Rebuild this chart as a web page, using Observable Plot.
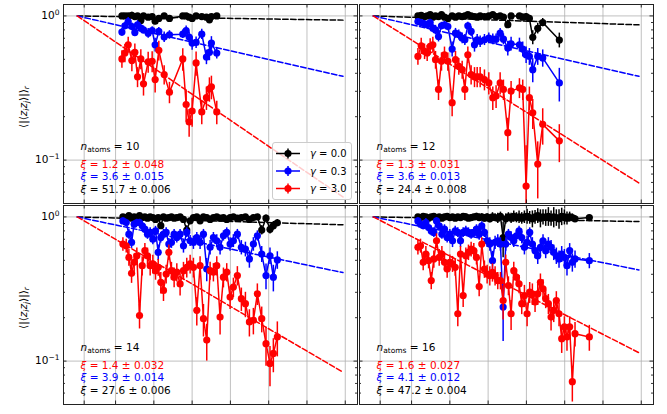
<!DOCTYPE html>
<html><head><meta charset="utf-8">
<script src="https://cdn.jsdelivr.net/npm/d3@7"></script>
<script src="https://cdn.jsdelivr.net/npm/@observablehq/plot@0.6"></script>
<style>
body{margin:0;background:#fff;}
#wrap{position:relative;width:667px;height:414px;overflow:hidden;font-family:"DejaVu Sans",sans-serif;background:#fff;}
#wrap svg{position:absolute;left:0;top:0;background:transparent !important;overflow:visible;}
#legend{position:absolute;left:272px;top:142px;width:80px;height:58px;box-sizing:border-box;border:1px solid #cccccc;border-radius:3px;background:rgba(255,255,255,0.8);}
#legend svg{position:absolute;left:0;top:0;}
</style></head><body><div id="wrap"></div>
<script>
// ---------- data ----------
const gammaLabels = ["0.0", "0.3", "3.0"];
const xTicks = [0.09, 0.5, 1, 1.5, 2, 2.5, 3, 3.5];
const yMajor = [0.1, 1];
const yMinor = [0.05, 0.06, 0.07, 0.08, 0.09, 0.2, 0.3, 0.4, 0.5, 0.6, 0.7, 0.8, 0.9];
const fitR = [0, 3.47];

// n_atoms = 10
const r10 = [0.583,0.622,0.665,0.713,0.752,0.787,0.830,0.865,0.926,0.978,1.017,1.065,1.135,1.204,1.378,1.422,1.461,1.500,1.552,1.626,1.687,1.726,1.752,1.822];
const k10 = [1.0,1.0,1.0,1.01,0.99,1.0,0.93,1.0,0.98,0.99,0.92,0.96,1.0,0.96,1.0,1.0,0.98,0.96,1.0,0.99,0.98,0.94,0.99,1.0];
const ek10 = [0.02,0.02,0.03,0.05,0.03,0.02,0.04,0.02,0.03,0.02,0.05,0.03,0.02,0.03,0.02,0.02,0.03,0.03,0.02,0.02,0.03,0.03,0.02,0.02];
const b10 = [0.772,0.853,0.914,0.844,0.768,0.867,0.822,0.80,0.759,0.792,0.631,0.78,0.713,0.74,0.747,0.792,0.713,0.648,0.655,0.747,0.519,0.559,0.648,0.553];
const eb10 = [0.05,0.05,0.06,0.05,0.05,0.06,0.05,0.05,0.06,0.05,0.07,0.05,0.06,0.05,0.05,0.06,0.06,0.07,0.06,0.06,0.06,0.07,0.07,0.05];
const red10 = [0.503,0.553,0.631,0.49,0.559,0.378,0.503,0.338,0.48,0.484,0.362,0.577,0.392,0.296,0.503,0.243,0.184,0.219,0.472,0.216,0.271,0.312,0.322,0.216];
const er10 = [0.07,0.08,0.08,0.08,0.08,0.06,0.08,0.06,0.08,0.08,0.07,0.09,0.06,0.05,0.09,0.06,0.04,0.05,0.09,0.04,0.05,0.06,0.06,0.04];
const xi10 = [51.7, 3.6, 1.2];
const xiErr10 = ["0.006", "0.015", "0.048"];
const fit10 = [0.935, 0.381, 0.0555];

// n_atoms = 12
const r12 = [0.583,0.626,0.670,0.704,0.743,0.778,0.813,0.852,0.891,0.930,0.974,1.030,1.074,1.117,1.161,1.196,1.235,1.278,1.322,1.357,1.396,1.452,1.509,1.561,1.604,1.657,1.700,1.757,1.80,1.909,1.952,1.996,2.039,2.083,2.148,2.213,2.430];
const k12 = [1.0,1.01,0.99,1.0,1.02,0.98,1.0,0.99,1.02,0.98,0.96,1.0,0.98,1.0,0.99,1.0,1.02,1.0,0.99,0.98,1.0,0.99,1.0,1.02,0.99,1.0,0.98,0.87,1.0,1.0,0.98,0.99,0.96,0.71,0.82,0.90,0.68];
const ek12 = [0.03,0.03,0.03,0.04,0.03,0.03,0.03,0.04,0.03,0.03,0.03,0.04,0.03,0.03,0.03,0.04,0.03,0.03,0.03,0.03,0.04,0.03,0.03,0.03,0.04,0.03,0.03,0.05,0.04,0.04,0.05,0.05,0.05,0.08,0.07,0.06,0.08];
const b12 = [0.914,0.90,0.881,0.867,0.90,0.822,0.80,0.72,0.853,0.867,0.844,0.589,0.759,0.74,0.701,0.683,0.853,0.78,0.631,0.683,0.665,0.683,0.701,0.69,0.69,0.759,0.69,0.598,0.641,0.631,0.589,0.538,0.524,0.424,0.524,0.511,0.343];
const eb12 = [0.04,0.04,0.05,0.05,0.05,0.05,0.06,0.06,0.05,0.05,0.05,0.07,0.06,0.06,0.06,0.06,0.05,0.06,0.07,0.06,0.06,0.06,0.06,0.06,0.06,0.06,0.06,0.07,0.07,0.07,0.07,0.07,0.07,0.08,0.07,0.07,0.09];
const red12 = [0.524,0.621,0.568,0.553,0.615,0.631,0.497,0.309,0.484,0.538,0.484,0.25,0.497,0.447,0.424,0.309,0.538,0.392,0.378,0.378,0.378,0.362,0.343,0.271,0.278,0.343,0.309,0.155,0.301,0.317,0.309,0.066,0.271,0.213,0.0938,0.177,0.136];
const er12 = [0.07,0.08,0.07,0.07,0.08,0.08,0.07,0.05,0.07,0.07,0.07,0.05,0.07,0.06,0.06,0.05,0.07,0.06,0.06,0.06,0.06,0.06,0.06,0.05,0.05,0.06,0.05,0.04,0.05,0.05,0.05,0.06,0.05,0.05,0.04,0.05,0.04];
const xi12 = [24.4, 3.6, 1.3];
const xiErr12 = ["0.008", "0.013", "0.031"];
const fit12 = [0.867, 0.381, 0.0693];

// n_atoms = 14
const r14 = [0.596,0.639,0.674,0.709,0.743,0.778,0.813,0.848,0.883,0.917,0.952,0.987,1.022,1.057,1.091,1.126,1.161,1.196,1.230,1.265,1.30,1.343,1.387,1.430,1.474,1.517,1.561,1.604,1.648,1.691,1.735,1.778,1.822,1.865,1.909,1.952,1.996,2.039,2.091,2.143,2.196,2.248,2.30,2.352,2.409,2.465,2.517,2.561,2.613];
const k14 = [1.0,0.99,1.02,0.98,1.0,0.99,1.02,0.99,1.0,0.98,1.0,0.99,0.96,0.99,0.87,1.0,0.98,0.99,1.0,0.98,0.99,1.0,0.96,0.81,0.94,0.99,1.0,0.94,1.0,0.99,0.96,0.99,1.0,0.98,0.99,0.96,0.99,1.0,0.98,0.99,1.0,0.96,0.99,1.0,0.81,0.98,0.82,0.87,0.91];
const ek14 = [0.02,0.03,0.03,0.04,0.03,0.03,0.04,0.03,0.03,0.04,0.03,0.03,0.04,0.03,0.05,0.03,0.04,0.03,0.03,0.04,0.03,0.03,0.04,0.06,0.04,0.03,0.04,0.04,0.03,0.04,0.04,0.03,0.04,0.04,0.03,0.04,0.04,0.03,0.04,0.04,0.03,0.04,0.04,0.04,0.06,0.05,0.06,0.06,0.05];
const b14 = [0.938,0.914,0.759,0.665,0.89,0.914,0.914,0.867,0.822,0.759,0.78,0.701,0.80,0.568,0.72,0.759,0.78,0.648,0.665,0.759,0.72,0.759,0.631,0.78,0.683,0.665,0.72,0.665,0.759,0.435,0.615,0.72,0.683,0.615,0.74,0.78,0.648,0.683,0.759,0.615,0.598,0.511,0.648,0.74,0.553,0.392,0.538,0.382,0.503];
const eb14 = [0.05,0.05,0.06,0.06,0.05,0.05,0.05,0.06,0.06,0.06,0.06,0.06,0.06,0.07,0.06,0.06,0.06,0.06,0.06,0.06,0.06,0.06,0.07,0.06,0.06,0.07,0.06,0.07,0.06,0.08,0.07,0.06,0.07,0.07,0.06,0.06,0.07,0.07,0.06,0.07,0.07,0.07,0.07,0.06,0.07,0.08,0.07,0.08,0.07];
const red14 = [0.648,0.631,0.524,0.406,0.484,0.538,0.207,0.459,0.583,0.538,0.459,0.472,0.424,0.447,0.352,0.309,0.402,0.568,0.424,0.382,0.414,0.343,0.424,0.447,0.472,0.447,0.225,0.459,0.197,0.14,0.424,0.414,0.459,0.202,0.382,0.414,0.278,0.326,0.392,0.271,0.25,0.187,0.192,0.293,0.197,0.132,0.0964,0.113,0.147];
const er14 = [0.07,0.07,0.07,0.06,0.07,0.07,0.04,0.07,0.07,0.07,0.07,0.07,0.06,0.06,0.06,0.05,0.06,0.07,0.06,0.06,0.06,0.06,0.06,0.07,0.07,0.07,0.05,0.07,0.05,0.04,0.06,0.06,0.07,0.05,0.06,0.06,0.05,0.05,0.06,0.05,0.05,0.04,0.04,0.05,0.04,0.04,0.03,0.03,0.04];
const xi14 = [27.6, 3.9, 1.4];
const xiErr14 = ["0.006", "0.014", "0.032"];
const fit14 = [0.882, 0.411, 0.0838];

// n_atoms = 16
const r16 = [0.583,0.617,0.652,0.687,0.722,0.757,0.791,0.826,0.861,0.896,0.930,0.965,1.0,1.035,1.070,1.104,1.139,1.174,1.209,1.243,1.278,1.313,1.348,1.383,1.417,1.452,1.487,1.522,1.557,1.591,1.626,1.661,1.696,1.730,1.765,1.80,1.835,1.870,1.904,1.939,1.974,2.009,2.043,2.078,2.113,2.148,2.183,2.217,2.252,2.287,2.322,2.357,2.391,2.426,2.461,2.496,2.530,2.565,2.60,2.635,2.822];
const k16 = [1.0,0.99,1.01,1.0,0.98,1.0,1.01,0.99,1.0,0.98,1.0,1.01,0.99,1.0,0.98,1.0,0.99,1.01,1.0,0.98,0.99,1.0,1.01,0.99,1.0,0.98,1.0,0.97,1.0,0.99,0.98,1.01,0.72,0.97,1.0,0.98,1.01,0.99,1.0,0.98,1.0,1.01,0.99,0.97,1.0,1.02,0.98,1.0,0.99,1.01,0.98,1.0,0.99,0.97,1.01,1.0,0.98,1.0,0.99,0.97,0.99];
const ek16 = [0.03,0.03,0.03,0.04,0.03,0.03,0.04,0.03,0.04,0.03,0.04,0.03,0.04,0.04,0.03,0.04,0.04,0.04,0.05,0.04,0.05,0.04,0.05,0.06,0.05,0.06,0.05,0.06,0.07,0.06,0.08,0.07,0.2,0.08,0.07,0.08,0.09,0.08,0.10,0.09,0.10,0.12,0.10,0.13,0.11,0.12,0.14,0.12,0.13,0.15,0.12,0.16,0.13,0.15,0.14,0.12,0.10,0.08,0.06,0.05,0.04];
const b16 = [0.938,0.89,0.867,0.914,0.844,0.80,0.78,0.938,0.867,0.759,0.822,0.72,0.759,0.683,0.80,0.78,0.683,0.78,0.80,0.78,0.759,0.78,0.822,0.759,0.867,0.78,0.683,0.648,0.497,0.665,0.683,0.648,0.237,0.648,0.759,0.72,0.683,0.74,0.80,0.72,0.615,0.665,0.78,0.648,0.583,0.538,0.615,0.683,0.583,0.648,0.615,0.568,0.538,0.511,0.553,0.524,0.459,0.583,0.484,0.511,0.497];
const eb16 = [0.05,0.05,0.05,0.06,0.05,0.06,0.06,0.05,0.06,0.06,0.06,0.06,0.06,0.07,0.06,0.06,0.07,0.06,0.06,0.06,0.06,0.06,0.06,0.07,0.06,0.06,0.07,0.07,0.08,0.07,0.07,0.07,0.1,0.07,0.06,0.07,0.07,0.06,0.06,0.07,0.07,0.07,0.06,0.07,0.07,0.07,0.07,0.07,0.07,0.07,0.07,0.07,0.07,0.07,0.07,0.07,0.07,0.07,0.07,0.07,0.06];
const red16 = [0.615,0.631,0.484,0.553,0.497,0.362,0.511,0.683,0.524,0.553,0.484,0.435,0.484,0.472,0.447,0.213,0.553,0.285,0.538,0.568,0.598,0.583,0.524,0.329,0.648,0.435,0.402,0.392,0.413,0.392,0.362,0.362,0.263,0.484,0.334,0.213,0.424,0.382,0.343,0.25,0.285,0.213,0.301,0.293,0.257,0.293,0.352,0.317,0.271,0.25,0.202,0.225,0.263,0.213,0.143,0.173,0.147,0.173,0.072,0.155,0.147];
const er16 = [0.07,0.07,0.06,0.07,0.06,0.05,0.07,0.08,0.07,0.07,0.06,0.06,0.06,0.06,0.06,0.04,0.07,0.05,0.07,0.07,0.07,0.07,0.06,0.05,0.07,0.06,0.06,0.06,0.06,0.06,0.05,0.05,0.07,0.06,0.05,0.05,0.06,0.05,0.05,0.04,0.05,0.04,0.05,0.05,0.04,0.05,0.05,0.05,0.04,0.04,0.04,0.04,0.04,0.04,0.03,0.03,0.03,0.03,0.02,0.03,0.03];
const xi16 = [47.2, 4.1, 1.6];
const xiErr16 = ["0.004", "0.012", "0.027"];
const fit16 = [0.929, 0.429, 0.1143];

// ---------- layout ----------
const W = 667, H = 414;
const FONT = "DejaVu Sans";
const COLORS = ["#000000", "#0000ff", "#ff0000"];
const panels = [
  {n: 10, col: 0, row: 0, r: r10, s: [[k10, ek10], [b10, eb10], [red10, er10]], xi: xi10, xiErr: xiErr10, fit: fit10},
  {n: 12, col: 1, row: 0, r: r12, s: [[k12, ek12], [b12, eb12], [red12, er12]], xi: xi12, xiErr: xiErr12, fit: fit12},
  {n: 14, col: 0, row: 1, r: r14, s: [[k14, ek14], [b14, eb14], [red14, er14]], xi: xi14, xiErr: xiErr14, fit: fit14},
  {n: 16, col: 1, row: 1, r: r16, s: [[k16, ek16], [b16, eb16], [red16, er16]], xi: xi16, xiErr: xiErr16, fit: fit16}
];

function richify(svg) {
  const NS = "http://www.w3.org/2000/svg";
  svg.querySelectorAll("text").forEach(t => {
    const s = t.textContent;
    if (!s.includes("{")) return;
    while (t.firstChild) t.removeChild(t.firstChild);
    const re = /\{(i|sub|isub|sup):([^}]*)\}|([^{]+)/g;
    let m, shift = 0;
    while ((m = re.exec(s))) {
      const ts = document.createElementNS(NS, "tspan");
      let dy = 0;
      if (m[3] !== undefined) { ts.textContent = m[3]; dy = -shift; shift = 0; }
      else {
        ts.textContent = m[2];
        const kind = m[1];
        if (kind === "i") { ts.setAttribute("font-style", "italic"); dy = -shift; shift = 0; }
        else if (kind === "sub" || kind === "isub") {
          ts.setAttribute("font-size", "7.5");
          if (kind === "isub") ts.setAttribute("font-style", "italic");
          dy = 2.5 - shift; shift = 2.5;
        } else if (kind === "sup") { ts.setAttribute("font-size", "7.5"); dy = -4 - shift; shift = -4; }
      }
      if (dy) ts.setAttribute("dy", dy);
      t.appendChild(ts);
    }
  });
}

function build(p) {
  const [x0, x1] = p.col ? [359, 653] : [63, 357];
  const [y0, y1] = p.row ? [205, 404] : [4, 203];
  const fw = x1 - x0, fh = y1 - y0;
  const marks = [
    Plot.ruleX(xTicks, {stroke: "#b0b0b0", strokeWidth: 0.8}),
    Plot.ruleY(yMajor, {stroke: "#b0b0b0", strokeWidth: 0.8})
  ];
  p.s.forEach(([vals, errs], k) => {
    const c = COLORS[k];
    const rows = p.r.map((r, i) => ({r, v: vals[i], lo: Math.max(vals[i] - errs[i], 0.001), hi: vals[i] + errs[i]}));
    const fitRows = fitR.map((r, j) => ({r, v: j ? p.fit[k] : 1}));
    marks.push(
      Plot.ruleX(rows, {x: "r", y1: "lo", y2: "hi", stroke: c, strokeWidth: 1.5, clip: true}),
      Plot.line(rows, {x: "r", y: "v", stroke: c, strokeWidth: 1.5, clip: true}),
      Plot.dot(rows, {x: "r", y: "v", fill: c, r: 3.6, clip: true}),
      Plot.line(fitRows, {x: "r", y: "v", stroke: c, strokeWidth: 1.5, strokeDasharray: "5.5,2.4", clip: true})
    );
  });
  const tk = {stroke: "#000", strokeWidth: 0.8};
  marks.push(
    Plot.tickY(yMajor, {...tk, insetRight: fw - 3.5}),
    Plot.tickY(yMajor, {...tk, insetLeft: fw - 3.5}),
    Plot.tickY(yMinor, {...tk, insetRight: fw - 2}),
    Plot.tickY(yMinor, {...tk, insetLeft: fw - 2}),
    Plot.tickX(xTicks, {...tk, insetTop: fh - 3.5}),
    Plot.tickX(xTicks, {...tk, insetBottom: fh - 3.5}),
    Plot.frame({stroke: "#222", strokeWidth: 1})
  );
  // annotations
  const ann = {frameAnchor: "bottom-left", dx: 17, textAnchor: "start", lineAnchor: "bottom", fontSize: 10.5, fontFamily: FONT};
  marks.push(Plot.text([p.n], {...ann, dy: -54, fill: "#000", text: d => `{i:n}{sub:atoms} = ${d}`}));
  const lines = [2, 1, 0];
  const offs = [-36, -24, -11];
  lines.forEach((k, j) => {
    marks.push(Plot.text([k], {...ann, dy: offs[j], fill: COLORS[k], text: d => `{i:ξ} = ${p.xi[d]} ± ${p.xiErr[d]}`}));
  });
  if (p.col === 0) {
    marks.push(
      Plot.text(yMajor, {y: d => d, frameAnchor: "left", dx: -4, textAnchor: "end", lineAnchor: "middle", fontSize: 10.5, fontFamily: FONT, fill: "#000",
        text: d => d === 1 ? "10{sup:0}" : "10{sup:−1}"}),
      Plot.text(["label"], {frameAnchor: "left", dx: -40, dy: 3, rotate: -90, textAnchor: "middle", lineAnchor: "middle", fontSize: 10.5, fontFamily: FONT, fill: "#000",
        text: () => "⟨|⟨{i:z}{isub:i}{i:z}{isub:j}⟩|⟩{isub:r}"})
    );
  }
  const svg = Plot.plot({
    width: W, height: H,
    marginLeft: x0, marginRight: W - x1, marginTop: y0, marginBottom: H - y1,
    x: {domain: [-0.18, 3.66], axis: null},
    y: {type: "log", domain: [0.05, 1.2], axis: null},
    style: {background: "transparent", overflow: "visible", fontFamily: FONT, fontSize: "10px"},
    marks
  });
  richify(svg);
  return svg;
}

const wrap = document.getElementById("wrap");
panels.forEach(p => wrap.appendChild(build(p)));

// legend
const leg = d3.select(wrap).append("div").attr("id", "legend");
const lsvg = leg.append("svg").attr("width", 80).attr("height", 58)
  .style("font-family", FONT).style("font-size", "10px");
const ly = [10.5, 28, 45.5];
gammaLabels.forEach((g, k) => {
  const gg = lsvg.append("g").attr("transform", `translate(0,${ly[k]})`);
  gg.append("line").attr("x1", 3).attr("x2", 27).attr("y1", 0).attr("y2", 0).attr("stroke", COLORS[k]).attr("stroke-width", 1.5);
  gg.append("line").attr("x1", 15).attr("x2", 15).attr("y1", -5).attr("y2", 5).attr("stroke", COLORS[k]).attr("stroke-width", 1.5);
  gg.append("circle").attr("cx", 15).attr("cy", 0).attr("r", 3.6).attr("fill", COLORS[k]);
  const t = gg.append("text").attr("x", 37).attr("y", 3.6).attr("fill", "#000");
  t.append("tspan").attr("font-style", "italic").text("γ");
  t.append("tspan").text(` = ${g}`);
});
</script>
</body></html>
